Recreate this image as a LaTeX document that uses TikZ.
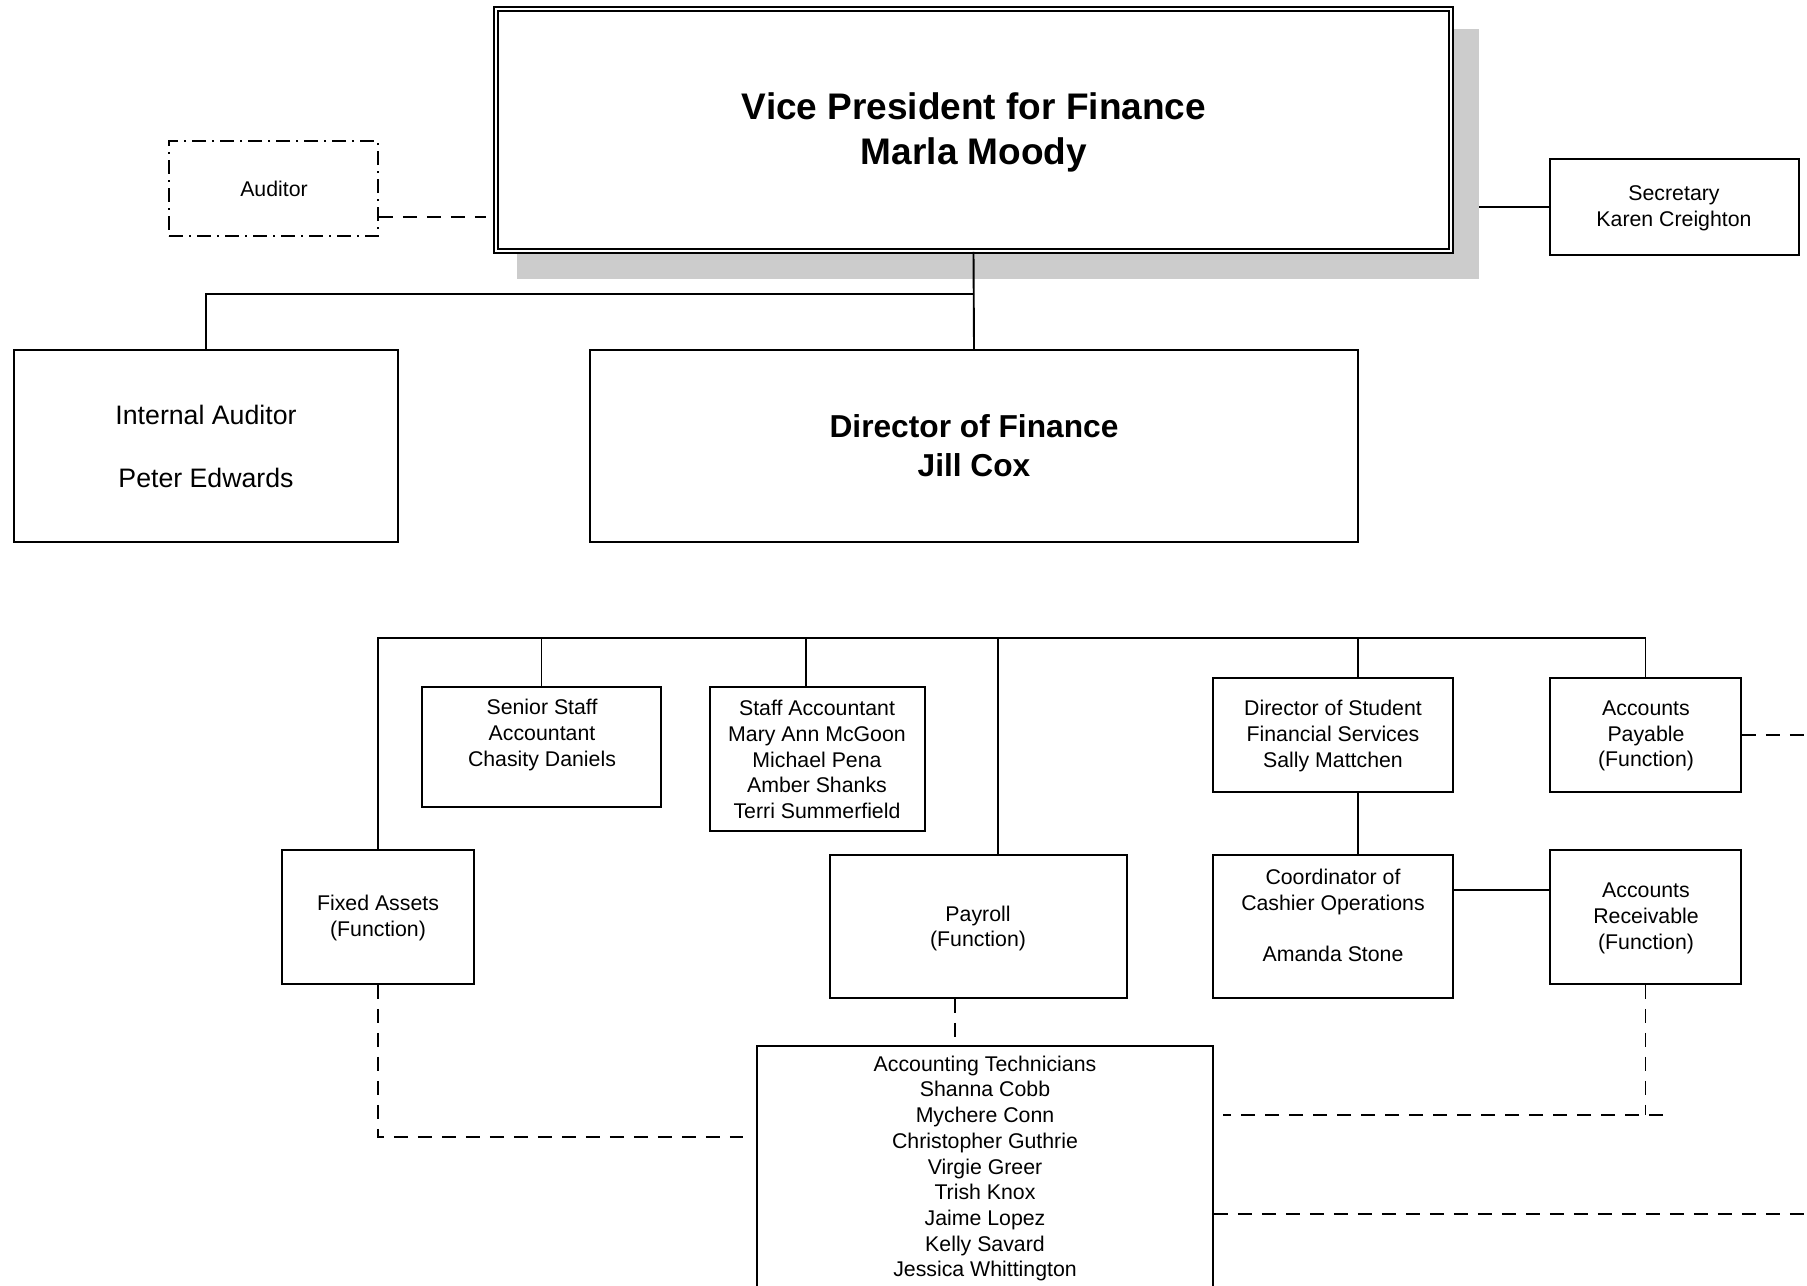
\documentclass[tikz,border=0pt]{standalone}
\usepackage{fontspec}
\setmainfont{Liberation Sans}
\definecolor{shadowgray}{HTML}{CCCCCC}
\tikzset{
  bx/.style={draw, line width=1.9pt, inner sep=0pt},
  txt/.style={align=center, inner sep=0pt, font=\fontsize{21.3}{25.7}\selectfont, yshift=-2pt},
  conn/.style={line width=1.9pt},
  dconn/.style={line width=1.9pt, dash pattern=on 14pt off 10pt},
  dashdotbox/.style={draw, line width=1.9pt, inner sep=0pt, dash pattern=on 14pt off 6pt on 2pt off 6pt},
}
\begin{document}
\begin{tikzpicture}[x=1pt,y=-1pt]
\clip (0,0) rectangle (1807,1285);
\fill[white] (0,0) rectangle (1807,1285);

% VP
\node[fill=shadowgray, inner sep=0pt, minimum width=962pt, minimum height=250pt] (vpsh) at (998,154) {};
\node[fill=white, draw, line width=1.7pt, double, double distance=2.2pt, inner sep=0pt, minimum width=955pt, minimum height=242pt] (vp) at (973.5,130) {};
\node[align=center, inner sep=0pt, font=\fontsize{37}{45}\selectfont\bfseries] (vpt) at (974,132) {Vice President for Finance\\Marla Moody};

% Auditor
\node[dashdotbox, minimum width=209pt, minimum height=95pt] (aud) at (273.5,188.5) {};
\node[txt] (audt) at (274,187) {Auditor};

% Secretary
\node[bx, minimum width=249pt, minimum height=96pt] (sec) at (1674.5,207) {};
\node[txt] (sect) at (1674,206) {Secretary\\Karen Creighton};

% Internal Auditor
\node[bx, minimum width=384pt, minimum height=192pt] (ia) at (206,446) {};
\node[align=center, inner sep=0pt, font=\fontsize{26.7}{31.5}\selectfont] (iat) at (206,446) {Internal Auditor\\[31.5pt]Peter Edwards};

% Director of Finance
\node[bx, minimum width=768pt, minimum height=192pt] (dir) at (974,446) {};
\node[align=center, inner sep=0pt, font=\fontsize{31.7}{39}\selectfont\bfseries] (dirt) at (974,446) {Director of Finance\\Jill Cox};

% Lower boxes
\node[bx, minimum width=239pt, minimum height=120pt] (ss) at (541.5,747) {};
\node[txt] (sst) at (542,733) {Senior Staff\\Accountant\\Chasity Daniels};

\node[bx, minimum width=215pt, minimum height=144pt] (sa) at (817.5,759) {};
\node[txt] (sat) at (817,757.5) {Staff Accountant\\Mary Ann McGoon\\Michael Pena\\Amber Shanks\\Terri Summerfield};

\node[bx, minimum width=240pt, minimum height=114pt] (ds) at (1333,735) {};
\node[txt] (dst) at (1333,734) {Director of Student\\Financial Services\\Sally Mattchen};

\node[bx, minimum width=191pt, minimum height=114pt] (ap) at (1645.5,735) {};
\node[txt] (apt) at (1646,734) {Accounts\\Payable\\(Function)};

\node[bx, minimum width=192pt, minimum height=134pt] (fa) at (378,917) {};
\node[txt] (fat) at (378,916) {Fixed Assets\\(Function)};

\node[bx, minimum width=297pt, minimum height=143pt] (pr) at (978.5,926.5) {};
\node[txt] (prt) at (978,926.5) {Payroll\\(Function)};

\node[bx, minimum width=240pt, minimum height=143pt] (co) at (1333,926.5) {};
\node[txt] (cot) at (1333,913.5) {Coordinator of\\Cashier Operations\\[25.7pt]Amanda Stone};

\node[bx, minimum width=191pt, minimum height=134pt] (ar) at (1645.5,917) {};
\node[txt] (art) at (1646,916.5) {Accounts\\Receivable\\(Function)};

\node[bx, minimum width=456pt, minimum height=274pt] (at) at (985,1183) {};
\node[txt] (att) at (985,1166.5) {Accounting Technicians\\Shanna Cobb\\Mychere Conn\\Christopher Guthrie\\Virgie Greer\\Trish Knox\\Jaime Lopez\\Kelly Savard\\Jessica Whittington};

% Coordinates
\coordinate (a1) at (486,217);
\coordinate (j1) at (974,294);
\coordinate (bus) at (0,638);
\coordinate (saT) at ([xshift=-11.5pt]sa.north);
\coordinate (prT) at ([xshift=19.5pt]pr.north);
\coordinate (dsT) at ([xshift=25pt]ds.north);
\coordinate (dsB) at ([xshift=25pt]ds.south);
\coordinate (coE) at ([yshift=36.5pt]co.east);
\coordinate (apR) at (1807,735);
\coordinate (prB) at ([xshift=-23.5pt]pr.south);
\coordinate (faE) at (743,1137);
\coordinate (arE) at (1223,1115);
\coordinate (arX) at (1663,1115);
\coordinate (atR) at (1807,1214);

% Top connectors
\draw[dconn] (aud.east |- a1) -- (a1);
\draw[conn] (vpsh.east |- sec.west) -- (sec.west);
\draw[conn] (vp.south) -- (dir.north);
\draw[conn] (j1) -| (ia.north);

% Bus
\draw[conn] (fa.north) |- (ap.north |- bus) -- (ap.north);
\draw[conn] (ss.north) -- (ss.north |- bus);
\draw[conn] (saT) -- (saT |- bus);
\draw[conn] (prT) -- (prT |- bus);
\draw[conn] (dsT) -- (dsT |- bus);
\draw[conn] (dsB) -- (dsB |- co.north);
\draw[conn] (coE) -- (coE -| ar.west);

% Dashed links
\draw[dconn] (ap.east) -- (apR);
\draw[dconn] (prB) -- (prB |- at.north);
\draw[dconn] (fa.south) |- (faE);
\draw[dconn] (ar.south) -- (ar.south |- arE);
\draw[dconn] (arX) -- (arE);
\draw[dconn] (at.east |- atR) -- (atR);
\end{tikzpicture}
\end{document}
